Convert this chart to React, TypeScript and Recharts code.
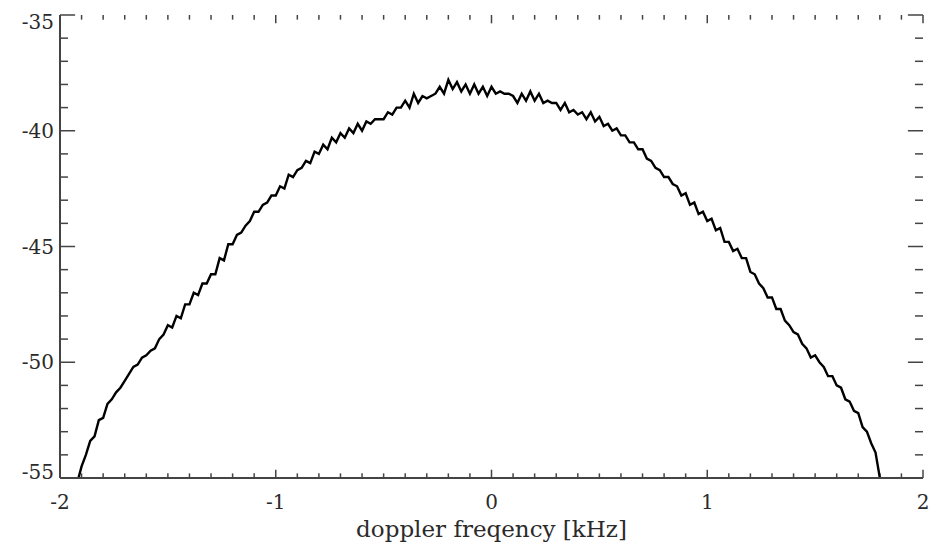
import { LineChart, Line, XAxis, YAxis, ReferenceLine } from 'recharts'

// doppler frequency [kHz]
const FREQ = [
  -1.92, -1.9, -1.88, -1.86, -1.84, -1.82, -1.8, -1.78, -1.76, -1.74, -1.72, -1.7, -1.68, -1.66, -1.64, -1.62,
  -1.6, -1.58, -1.56, -1.54, -1.52, -1.5, -1.48, -1.46, -1.44, -1.42, -1.4, -1.38, -1.36, -1.34, -1.32, -1.3,
  -1.28, -1.26, -1.24, -1.22, -1.2, -1.18, -1.16, -1.14, -1.12, -1.1, -1.08, -1.06, -1.04, -1.02, -1.0, -0.98,
  -0.96, -0.94, -0.92, -0.9, -0.88, -0.86, -0.84, -0.82, -0.8, -0.78, -0.76, -0.74, -0.72, -0.7, -0.68, -0.66,
  -0.64, -0.62, -0.6, -0.58, -0.56, -0.54, -0.52, -0.5, -0.48, -0.46, -0.44, -0.42, -0.4, -0.38, -0.36, -0.34,
  -0.32, -0.3, -0.28, -0.26, -0.24, -0.22, -0.2, -0.18, -0.16, -0.14, -0.12, -0.1, -0.08, -0.06, -0.04, -0.02,
  0.0, 0.02, 0.04, 0.06, 0.08, 0.1, 0.12, 0.14, 0.16, 0.18, 0.2, 0.22, 0.24, 0.26, 0.28, 0.3,
  0.32, 0.34, 0.36, 0.38, 0.4, 0.42, 0.44, 0.46, 0.48, 0.5, 0.52, 0.54, 0.56, 0.58, 0.6, 0.62,
  0.64, 0.66, 0.68, 0.7, 0.72, 0.74, 0.76, 0.78, 0.8, 0.82, 0.84, 0.86, 0.88, 0.9, 0.92, 0.94,
  0.96, 0.98, 1.0, 1.02, 1.04, 1.06, 1.08, 1.1, 1.12, 1.14, 1.16, 1.18, 1.2, 1.22, 1.24, 1.26,
  1.28, 1.3, 1.32, 1.34, 1.36, 1.38, 1.4, 1.42, 1.44, 1.46, 1.48, 1.5, 1.52, 1.54, 1.56, 1.58,
  1.6, 1.62, 1.64, 1.66, 1.68, 1.7, 1.72, 1.74, 1.76, 1.78, 1.8,
]

// spectral power [dB]
const POWER = [
  -55.2, -54.5, -54.0, -53.4, -53.2, -52.5, -52.4, -51.8, -51.6, -51.3, -51.1, -50.8, -50.5, -50.2, -50.1, -49.8,
  -49.7, -49.5, -49.4, -49.0, -48.8, -48.4, -48.5, -48.0, -48.1, -47.5, -47.5, -47.0, -47.1, -46.6, -46.6, -46.2,
  -46.2, -45.5, -45.6, -44.9, -44.9, -44.5, -44.4, -44.1, -43.9, -43.5, -43.5, -43.2, -43.1, -42.8, -42.8, -42.4,
  -42.5, -41.9, -42.0, -41.7, -41.6, -41.3, -41.4, -40.9, -41.0, -40.6, -40.8, -40.3, -40.5, -40.1, -40.3, -39.9,
  -40.1, -39.7, -40.0, -39.6, -39.7, -39.5, -39.5, -39.5, -39.2, -39.3, -39.0, -39.0, -38.7, -39.0, -38.4, -38.8,
  -38.5, -38.6, -38.5, -38.4, -38.1, -38.4, -37.8, -38.2, -37.9, -38.3, -38.0, -38.4, -38.0, -38.4, -38.1, -38.5,
  -38.1, -38.4, -38.3, -38.4, -38.4, -38.5, -38.8, -38.4, -38.7, -38.3, -38.7, -38.4, -38.8, -38.7, -38.8, -38.8,
  -39.1, -38.8, -39.2, -39.1, -39.3, -39.2, -39.5, -39.2, -39.6, -39.4, -39.8, -39.7, -40.0, -39.9, -40.2, -40.2,
  -40.5, -40.5, -40.8, -40.8, -41.2, -41.3, -41.6, -41.7, -42.0, -42.0, -42.3, -42.4, -42.8, -42.7, -43.2, -43.1,
  -43.6, -43.5, -43.9, -43.8, -44.3, -44.2, -44.8, -44.8, -45.2, -45.1, -45.5, -45.5, -46.1, -46.2, -46.6, -46.8,
  -47.2, -47.2, -47.7, -47.7, -48.2, -48.4, -48.7, -48.8, -49.2, -49.4, -49.8, -49.7, -50.0, -50.2, -50.6, -50.6,
  -51.0, -51.1, -51.6, -51.7, -52.1, -52.2, -52.8, -53.0, -53.5, -53.9, -55.0,
]

const X_LABELS = [-2, -1, 0, 1, 2]
const Y_LABELS = [-55, -50, -45, -40, -35]

const FONT = '"DejaVu Serif", serif'
const AXIS = '#444'
const TEXT = '#2a2a2a'

// tick marks: every 0.1 kHz and every 1 dB
const xTicks: number[] = []
for (let i = -20; i <= 20; i++) xTicks.push(i / 10)
const yTicks: number[] = []
for (let i = -55; i <= -35; i++) yTicks.push(i)

const data = FREQ.map((f, i) => ({ f, p: POWER[i] }))

// tick lengths expressed in the other axis' units
const X_MINOR = 0.2
const X_MAJOR = 0.36
const Y_MINOR = 0.037
const Y_MAJOR = 0.07

function XLabel(props: any) {
  const { x, y, payload } = props
  return (
    <text x={x} y={y + 31} textAnchor="middle" fontSize={20} fontFamily={FONT} fill={TEXT}>
      {payload.value}
    </text>
  )
}

function YLabel(props: any) {
  const { x, y, payload } = props
  const v = payload.value
  let dy = 7
  if (v === -35) dy = 14
  if (v === -55) dy = 1
  return (
    <text x={x - 6} y={y + dy} textAnchor="end" fontSize={20} fontFamily={FONT} fill={TEXT}>
      {v}
    </text>
  )
}

export default function App() {
  return (
    <div style={{ position: 'absolute', left: 0, top: 0, width: 939, height: 548, background: '#fff' }}>
      <LineChart width={939} height={548} data={data} margin={{ top: 15, right: 16, left: 0, bottom: 0 }}>
        <XAxis
          dataKey="f"
          type="number"
          domain={[-2, 2]}
          ticks={X_LABELS}
          allowDataOverflow
          height={70}
          tickSize={0}
          tickMargin={0}
          tickLine={false}
          axisLine={{ stroke: AXIS, strokeWidth: 2 }}
          interval={0}
          tick={<XLabel />}
          label={{ value: 'doppler freqency [kHz]', position: 'insideBottom', offset: 11, fontSize: 23, fontFamily: FONT, fill: TEXT }}
        />
        <XAxis
          xAxisId="top"
          orientation="top"
          type="number"
          domain={[-2, 2]}
          allowDataOverflow
          height={0}
          tick={false}
          tickLine={false}
          axisLine={{ stroke: AXIS, strokeWidth: 2 }}
        />
        <YAxis
          type="number"
          domain={[-55, -35]}
          ticks={Y_LABELS}
          allowDataOverflow
          width={60}
          tickSize={0}
          tickMargin={0}
          tickLine={false}
          axisLine={{ stroke: AXIS, strokeWidth: 2 }}
          interval={0}
          tick={<YLabel />}
        />
        <YAxis
          yAxisId="right"
          orientation="right"
          type="number"
          domain={[-55, -35]}
          allowDataOverflow
          width={0}
          tick={false}
          tickLine={false}
          axisLine={{ stroke: AXIS, strokeWidth: 2 }}
        />
        {xTicks.map((t) => {
          const len = X_LABELS.includes(t) ? X_MAJOR : X_MINOR
          return [
            <ReferenceLine
              key={`xb${t}`}
              segment={[{ x: t, y: -55 }, { x: t, y: -55 + len }]}
              stroke={AXIS}
              strokeWidth={1.5}
            />,
            <ReferenceLine
              key={`xt${t}`}
              segment={[{ x: t, y: -35 }, { x: t, y: -35 - len }]}
              stroke={AXIS}
              strokeWidth={1.5}
            />,
          ]
        })}
        {yTicks.map((t) => {
          const len = Y_LABELS.includes(t) ? Y_MAJOR : Y_MINOR
          return [
            <ReferenceLine
              key={`yl${t}`}
              segment={[{ x: -2, y: t }, { x: -2 + len, y: t }]}
              stroke={AXIS}
              strokeWidth={1.5}
            />,
            <ReferenceLine
              key={`yr${t}`}
              segment={[{ x: 2, y: t }, { x: 2 - len, y: t }]}
              stroke={AXIS}
              strokeWidth={1.5}
            />,
          ]
        })}
        <Line
          dataKey="p"
          type="linear"
          stroke="#000"
          strokeWidth={2.4}
          dot={false}
          isAnimationActive={false}
        />
      </LineChart>
    </div>
  )
}
